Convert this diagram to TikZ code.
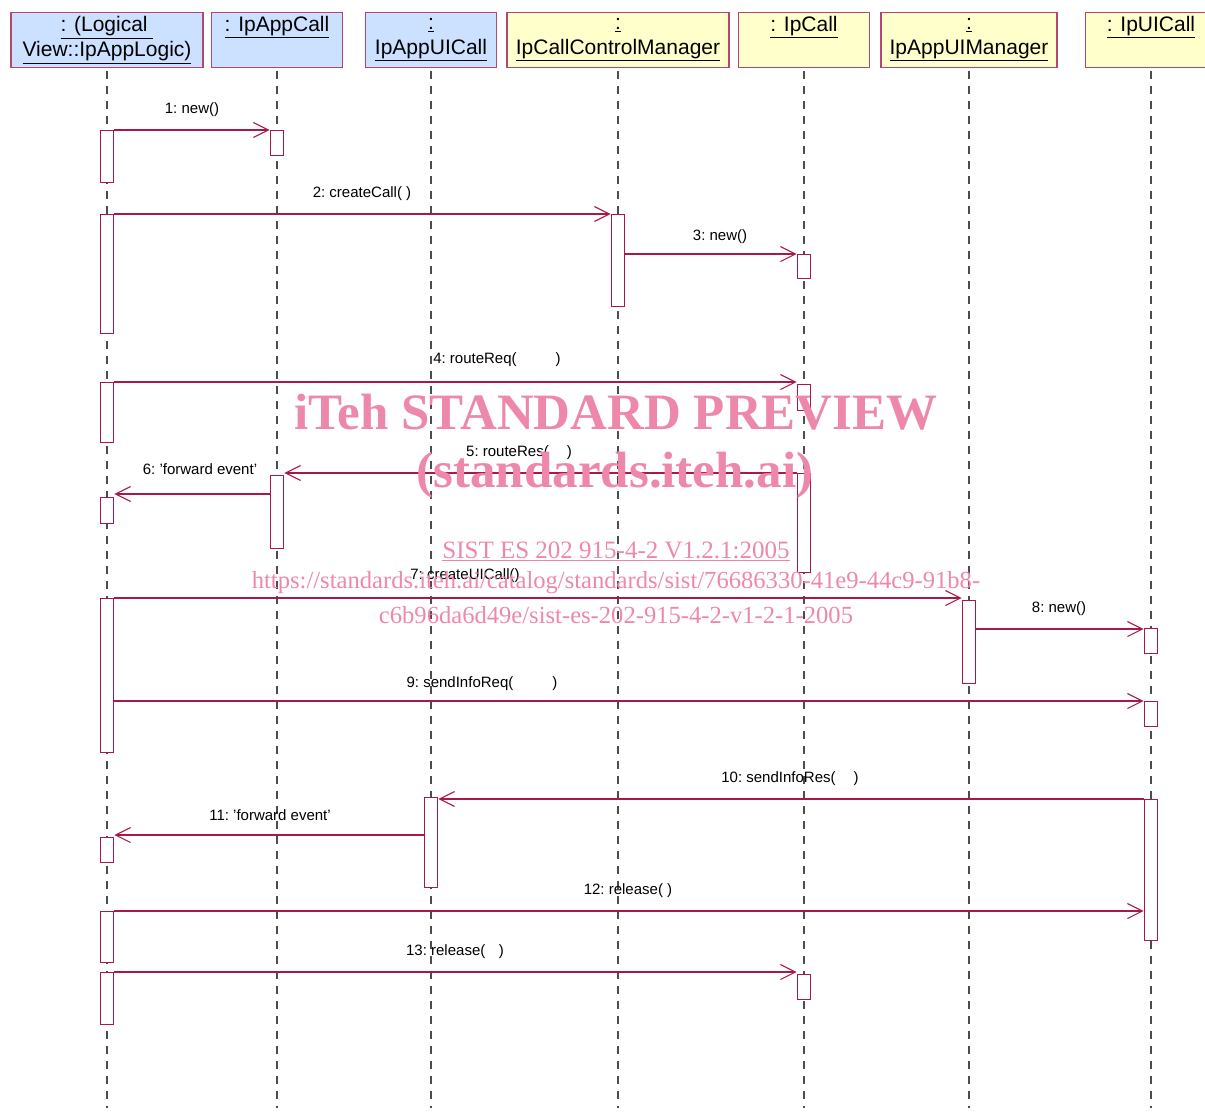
\documentclass[tikz,border=0pt]{standalone}
\usepackage{fontspec}
\setmainfont{Liberation Sans}
\newfontfamily\wmfont{Liberation Serif}
\usetikzlibrary{arrows.meta}
\definecolor{umlred}{RGB}{168,24,72}
\definecolor{boxred}{RGB}{180,70,115}
\definecolor{umlblue}{RGB}{204,224,255}
\definecolor{umlyellow}{RGB}{255,255,204}
\definecolor{wmpink}{RGB}{238,136,170}
\def\hd#1{\underline{#1}}

\begin{document}
\begin{tikzpicture}[x=1pt,y=-1pt,
    obj/.style={draw=boxred,line width=1.1pt,anchor=north,minimum height=55pt,
      inner sep=2pt,align=center,font=\fontsize{21}{25}\selectfont},
    act/.style={draw=umlred,fill=white,line width=1.1pt,minimum width=13.5pt,
      inner sep=0pt,anchor=north},
    life/.style={draw=black!70,line width=1.1pt,dash pattern=on 8pt off 7pt},
    msgarr/.style={draw=umlred,line width=1.1pt,-{Straight Barb[length=15pt,width=15pt]}},
    msg/.style={font=\fontsize{15}{17}\selectfont,inner sep=0pt},
    wm/.style={text=wmpink,font=\wmfont,inner sep=0pt}]
    \useasboundingbox (0,0) rectangle (1205,1113);
    % objects
    \node[obj,fill=umlblue,minimum width=192pt] (hLogic) at (107,12) {\hd{: (Logical }\\\hd{View::IpAppLogic)}};
    \node[obj,fill=umlblue,minimum width=131pt] (hAppCall) at (277,12) {\hd{: IpAppCall}\\\strut};
    \node[obj,fill=umlblue,minimum width=131pt] (hAppUI) at (431,12) {\hd{:}\\\hd{IpAppUICall}};
    \node[obj,fill=umlyellow,minimum width=222pt] (hCCM) at (618,12) {\hd{:}\\\hd{IpCallControlManager}};
    \node[obj,fill=umlyellow,minimum width=131pt] (hCall) at (804,12) {\hd{: IpCall}\\\strut};
    \node[obj,fill=umlyellow,minimum width=176pt] (hUIMgr) at (969,12) {\hd{:}\\\hd{IpAppUIManager}};
    \node[obj,fill=umlyellow,minimum width=131pt] (hUICall) at (1151,12) {\hd{: IpUICall}\\\strut};
    \coordinate (bottom) at (0,1108);
    \foreach \h in {hLogic,hAppCall,hAppUI,hCCM,hCall,hUIMgr,hUICall}
      \draw[life,shorten <=3pt] (\h.south) -- (\h.south |- bottom);
    % activations
    \node[act,minimum height=52pt] (a1) at (107,130) {};
    \node[act,minimum height=119pt] (a2) at (107,214) {};
    \node[act,minimum height=60pt] (a3) at (107,382) {};
    \node[act,minimum height=26pt] (a4) at (107,497) {};
    \node[act,minimum height=154pt] (a5) at (107,598) {};
    \node[act,minimum height=25pt] (a6) at (107,837) {};
    \node[act,minimum height=51pt] (a7) at (107,911) {};
    \node[act,minimum height=52pt] (a8) at (107,972) {};
    \node[act,minimum height=25pt] (b1) at (277,130) {};
    \node[act,minimum height=73pt] (b2) at (277,475) {};
    \node[act,minimum height=90pt] (c1) at (431,797) {};
    \node[act,minimum height=92pt] (d1) at (618,214) {};
    \node[act,minimum height=24pt] (e1) at (804,254) {};
    \node[act,minimum height=26pt] (e2) at (804,384) {};
    \node[act,minimum height=99pt] (e3) at (804,473) {};
    \node[act,minimum height=25pt] (e4) at (804,974) {};
    \node[act,minimum height=83pt] (f1) at (969,600) {};
    \node[act,minimum height=25pt] (g1) at (1151,628) {};
    \node[act,minimum height=25pt] (g2) at (1151,701) {};
    \node[act,minimum height=141pt] (g3) at (1151,799) {};
    % messages
    \draw[msgarr] (a1.north east) -- (b1.north west);
    \node[msg] (m1) at (192,110) {1:\ new()};
    \draw[msgarr] (a2.north east) -- (d1.north west);
    \node[msg] (m2) at (362,194) {2:\ createCall( )};
    \draw[msgarr] (d1.east |- e1.north) -- (e1.north west);
    \node[msg] (m3) at (720,237) {3:\ new()};
    \draw[msgarr] (a3.north east) -- (a3.north east -| e2.west);
    \node[msg] (m4) at (497,360) {4:\ routeReq(\hspace{2.6em})};
    \draw[msgarr] (e3.north west) -- (e3.north west -| b2.east);
    \node[msg] (m5) at (519,453) {5:\ routeRes(\hspace{1.2em})};
    \draw[msgarr] (b2.west |- 0,494) -- (a4.east |- 0,494);
    \node[msg] (m6) at (200,469) {6:\ 'forward event'};
    \draw[msgarr] (a5.north east) -- (a5.north east -| f1.west);
    \node[msg] (m7) at (465,576) {7:\ createUICall()};
    \draw[msgarr] (f1.east |- 0,629) -- (g1.west |- 0,629);
    \node[msg] (m8) at (1059,609) {8:\ new()};
    \draw[msgarr] (a5.east |- g2.north) -- (g2.north west);
    \node[msg] (m9) at (482,684) {9:\ sendInfoReq(\hspace{2.6em})};
    \draw[msgarr] (g3.north west) -- (g3.north west -| c1.east);
    \node[msg] (m10) at (790,779) {10:\ sendInfoRes(\hspace{1.2em})};
    \draw[msgarr] (c1.west |- 0,835) -- (a6.east |- 0,835);
    \node[msg] (m11) at (270,815) {11:\ 'forward event'};
    \draw[msgarr] (a7.north east) -- (a7.north east -| g3.west);
    \node[msg] (m12) at (628,891) {12:\ release( )};
    \draw[msgarr] (a8.north east) -- (a8.north east -| e4.west);
    \node[msg] (m13) at (455,952) {13:\ release(\hspace{0.9em})};
    % watermark
    \node[wm,font=\wmfont\bfseries\fontsize{51}{55}\selectfont] (wm1) at (616,412) {iTeh STANDARD PREVIEW};
    \node[wm,font=\wmfont\bfseries\fontsize{51}{55}\selectfont] (wm2) at (615,475) {(standards.iteh.ai)};
    \node[wm,font=\wmfont\fontsize{25}{28}\selectfont] (wm3) at (616,551) {\underline{SIST ES 202 915-4-2 V1.2.1:2005}};
    \node[wm,font=\wmfont\fontsize{24.6}{28}\selectfont] (wm4) at (616,583) {https://standards.iteh.ai/catalog/standards/sist/76686330-41e9-44c9-91b8-};
    \node[wm,font=\wmfont\fontsize{24.6}{28}\selectfont] (wm5) at (616,615) {c6b96da6d49e/sist-es-202-915-4-2-v1-2-1-2005};
\end{tikzpicture}
\end{document}
